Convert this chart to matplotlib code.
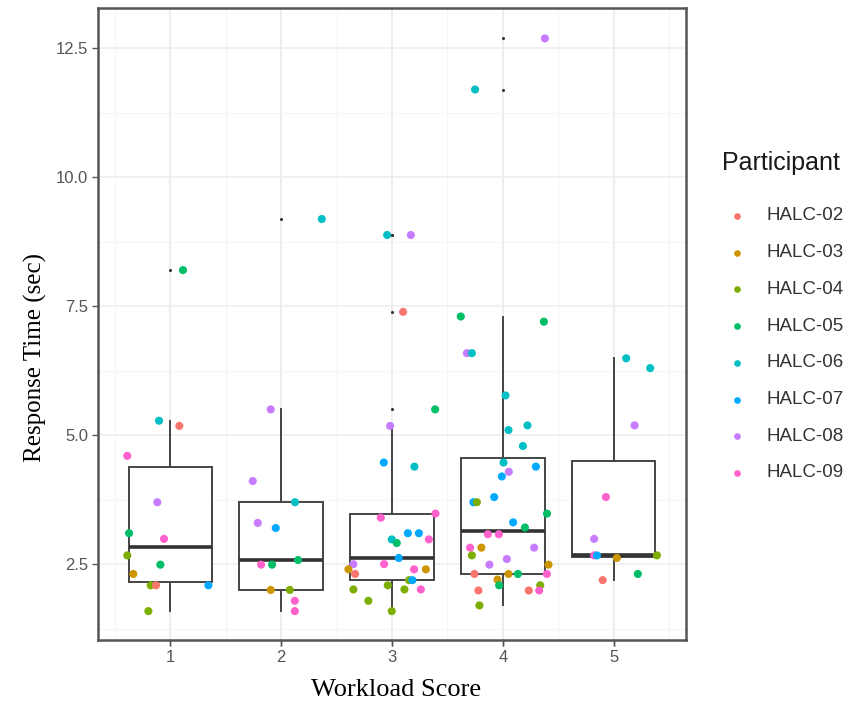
import matplotlib.pyplot as plt
from matplotlib.lines import Line2D
import numpy as np

# participants and ggplot hue colours
participants = ["HALC-02", "HALC-03", "HALC-04", "HALC-05",
                "HALC-06", "HALC-07", "HALC-08", "HALC-09"]
hue = ["#F8766D", "#CD9600", "#7CAE00", "#00BE67",
       "#00BFC4", "#00A9FF", "#C77CFF", "#FF61CC"]

scores = [1, 2, 3, 4, 5]

# response times (sec) per workload score, participant number, jittered x as read
rt_1 = [8.20, 5.28, 5.18, 4.60, 3.70, 3.10, 2.99, 2.67, 2.49, 2.31, 2.09, 2.09, 2.09, 1.59]
who_1 = [5, 6, 2, 9, 8, 5, 9, 4, 5, 3, 4, 2, 7, 4]
jx_1 = [1.116, 0.900, 1.083, 0.614, 0.885, 0.630, 0.945, 0.614, 0.912, 0.668, 0.825, 0.873, 1.345, 0.804]

rt_2 = [9.19, 5.50, 4.11, 3.70, 3.30, 3.20, 2.58, 2.49, 2.49, 2.00, 2.00, 1.79, 1.59]
who_2 = [6, 8, 8, 6, 8, 7, 5, 9, 5, 3, 4, 9, 9]
jx_2 = [2.367, 1.907, 1.745, 2.126, 1.790, 1.952, 2.153, 1.820, 1.919, 1.907, 2.079, 2.124, 2.124]

rt_3 = [8.88, 8.88, 7.39, 5.50, 5.18, 4.47, 4.39, 3.48, 3.40, 3.10, 3.10, 2.98, 2.98, 2.91,
        2.62, 2.50, 2.50, 2.40, 2.40, 2.40, 2.31, 2.19, 2.19, 2.09, 2.01, 2.01, 2.01, 1.79, 1.59]
who_3 = [6, 8, 2, 5, 8, 7, 6, 9, 9, 7, 7, 6, 9, 5,
         7, 8, 9, 3, 9, 3, 2, 4, 7, 4, 4, 4, 9, 4, 4]
jx_3 = [2.956, 3.170, 3.100, 3.389, 2.983, 2.926, 3.202, 3.392, 2.899, 3.143, 3.242, 2.998, 3.332, 3.043,
        3.061, 2.652, 2.929, 2.607, 3.199, 3.305, 2.667, 3.154, 3.184, 2.962, 2.652, 3.112, 3.260, 2.787, 2.998]

rt_4 = [12.69, 11.70, 7.30, 7.20, 6.59, 6.59, 5.77, 5.19, 5.10, 4.79, 4.47, 4.39, 4.29, 4.20,
        3.80, 3.70, 3.70, 3.48, 3.31, 3.21, 3.08, 3.08, 2.82, 2.82, 2.82, 2.67, 2.60, 2.49, 2.49,
        2.31, 2.31, 2.31, 2.31, 2.20, 2.09, 2.09, 1.99, 1.99, 1.99, 1.70]
who_4 = [8, 6, 5, 5, 8, 6, 6, 6, 6, 6, 6, 7, 8, 7,
         7, 7, 4, 5, 7, 5, 9, 9, 9, 3, 8, 4, 8, 8, 3,
         2, 3, 5, 9, 3, 5, 4, 2, 2, 9, 4]
jx_4 = [4.378, 3.749, 3.620, 4.369, 3.675, 3.720, 4.023, 4.221, 4.050, 4.180, 4.005, 4.297, 4.053, 3.990,
        3.921, 3.734, 3.765, 4.397, 4.092, 4.198, 3.864, 3.963, 3.704, 3.806, 4.281, 3.720, 4.035, 3.878, 4.411,
        3.743, 4.050, 4.135, 4.396, 3.951, 3.966, 4.336, 3.779, 4.233, 4.327, 3.788]

rt_5 = [6.49, 6.30, 5.19, 3.80, 2.99, 2.67, 2.67, 2.67, 2.62, 2.31, 2.19]
who_5 = [6, 6, 8, 9, 8, 9, 7, 4, 3, 5, 2]
jx_5 = [5.111, 5.327, 5.186, 4.928, 4.822, 4.822, 4.847, 5.388, 5.027, 5.216, 4.899]

rt = [rt_1, rt_2, rt_3, rt_4, rt_5]
who = [who_1, who_2, who_3, who_4, who_5]
jx = [jx_1, jx_2, jx_3, jx_4, jx_5]

fig = plt.figure(figsize=(8.5, 7.1), dpi=100)
ax = fig.add_axes([98/850, 1 - 640/710, 588/850, 632/710])

# grid, theme_bw style
ax.set_xlim(0.35, 5.65)
ax.set_ylim(1.03, 13.28)
ax.set_xticks(scores)
ax.set_yticks([2.5, 5.0, 7.5, 10.0, 12.5])
ax.set_xticks([0.5, 1.5, 2.5, 3.5, 4.5, 5.5], minor=True)
ax.set_yticks([1.25, 3.75, 6.25, 8.75, 11.25], minor=True)
ax.grid(True, which="major", color="#EDEDED", lw=1.1, zorder=0)
ax.grid(True, which="minor", color="#F5F5F5", lw=0.8, zorder=0)
ax.set_axisbelow(True)
ax.tick_params(which="minor", length=0)
ax.tick_params(which="major", length=4, width=1, color="#555555",
               labelcolor="#555555", labelsize=12, pad=3)
ax.set_yticklabels(["2.5", "5.0", "7.5", "10.0", "12.5"], family="Liberation Sans")
ax.set_xticklabels([str(s) for s in scores], family="Liberation Sans")
for sp in ax.spines.values():
    sp.set_color("#555555")
    sp.set_linewidth(1.8)

# boxplots
bp = ax.boxplot(rt, positions=scores, widths=0.75, whis=1.5, showcaps=False,
                patch_artist=True, zorder=2,
                boxprops=dict(facecolor="white", edgecolor="#444444", linewidth=1.4),
                whiskerprops=dict(color="#444444", linewidth=1.4),
                medianprops=dict(color="#333333", linewidth=2.6),
                flierprops=dict(marker="o", markersize=2.2, markerfacecolor="#333333",
                                markeredgecolor="none"))

# jittered points
for g in range(5):
    cols = [hue[w - 2] for w in who[g]]
    ax.scatter(jx[g], rt[g], s=34, c=cols, edgecolors="none", zorder=3)

# axis titles
fig.text(396/850, 1 - 690/710, "Workload Score", family="Liberation Serif",
         fontsize=19, ha="center", va="center", color="black")
fig.text(35/850, 1 - 357/710, "Response Time (sec)", family="Liberation Serif",
         fontsize=18, ha="center", va="center", rotation=90, color="black")

# legend
fig.text(722/850, 1 - 163/710, "Participant", family="Liberation Sans",
         fontsize=18, ha="left", va="center", color="#1A1A1A")
for i, name in enumerate(participants):
    y = 1 - (216 + 36.7 * i) / 710
    fig.add_artist(Line2D([737/850], [y], marker="o", markersize=4.8, color=hue[i],
                          markeredgecolor="none", linestyle="none",
                          transform=fig.transFigure))
    fig.text(767/850, y, name, family="Liberation Sans", fontsize=13.5,
             ha="left", va="center", color="#333333")

fig.savefig("out.png", dpi=100)
